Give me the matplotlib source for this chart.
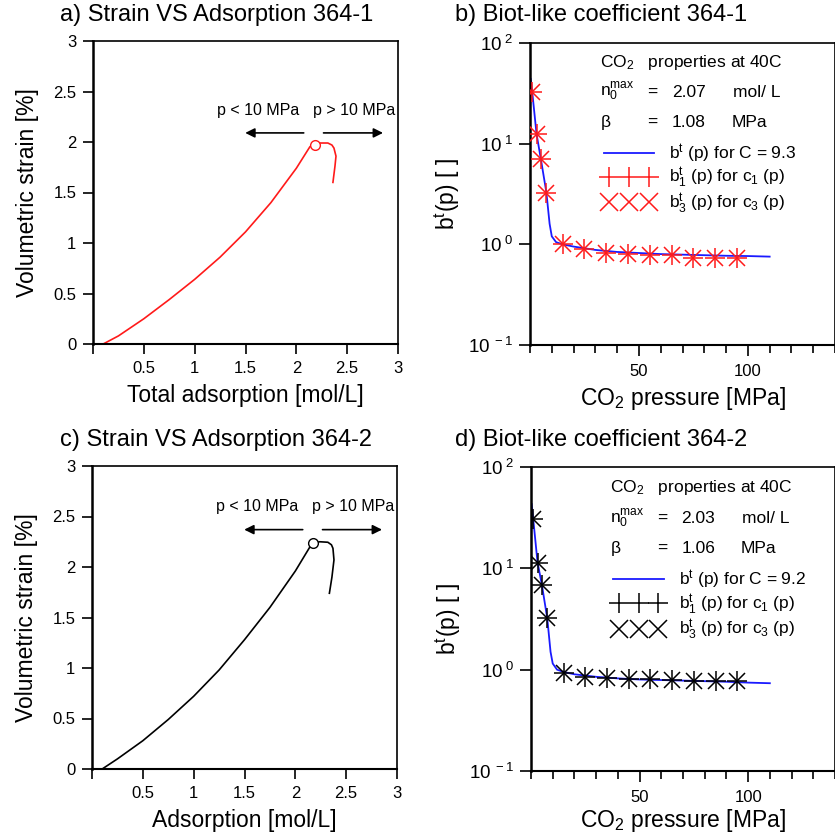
import numpy as np
import matplotlib.pyplot as plt
from matplotlib.ticker import FixedLocator, MultipleLocator, NullLocator, FuncFormatter
from matplotlib.lines import Line2D
from matplotlib.legend_handler import HandlerLine2D

plt.rcParams['font.family'] = ['Liberation Sans', 'DejaVu Sans']
plt.rcParams['mathtext.fontset'] = 'custom'
plt.rcParams['mathtext.rm'] = 'Liberation Sans'
plt.rcParams['mathtext.it'] = 'Liberation Sans:italic'

# strain vs adsorption, sample 364-1 (red) and 364-2 (black)
ads_1 = [0.10, 0.25, 0.50, 0.75, 1.00, 1.25, 1.50, 1.75, 2.00, 2.134, 2.18,
         2.23, 2.31, 2.35, 2.37, 2.39, 2.38, 2.36]
strain_1 = [0.00, 0.08, 0.25, 0.44, 0.64, 0.86, 1.11, 1.40, 1.74, 1.954, 1.97,
            1.99, 1.99, 1.97, 1.94, 1.86, 1.76, 1.60]
peak_1 = (2.18, 1.97)

ads_2 = [0.10, 0.25, 0.50, 0.75, 1.00, 1.25, 1.50, 1.75, 2.00, 2.144, 2.177,
         2.24, 2.32, 2.355, 2.37, 2.38, 2.36, 2.335]
strain_2 = [0.00, 0.10, 0.28, 0.49, 0.72, 0.98, 1.28, 1.60, 1.96, 2.20, 2.235,
            2.25, 2.245, 2.22, 2.185, 2.07, 1.90, 1.74]
peak_2 = (2.177, 2.235)

# Biot-like coefficient vs CO2 pressure
p_pts = [1, 3, 5, 7.5, 15, 25, 35, 45, 55, 65, 75, 85, 95]
bt_pts_1 = [32.5, 12.4, 7.0, 3.2, 1.0, 0.90, 0.82, 0.80, 0.79, 0.78, 0.73, 0.73, 0.73]
bt_pts_2 = [31.0, 11.4, 6.9, 3.2, 0.93, 0.85, 0.83, 0.80, 0.80, 0.79, 0.77, 0.78, 0.77]

p_line = [0.3, 1, 3, 5, 7.5, 9, 10, 12, 15, 20, 30, 40, 50, 60, 70, 80, 90, 100, 110]
bt_line_1 = [44, 33, 12.5, 7.0, 3.3, 1.6, 1.2, 1.05, 1.0, 0.95, 0.88, 0.84, 0.82,
             0.80, 0.79, 0.78, 0.77, 0.765, 0.755]
bt_line_2 = [43, 31, 11.5, 6.9, 3.2, 1.5, 1.15, 1.0, 0.95, 0.90, 0.85, 0.82, 0.80,
             0.79, 0.78, 0.77, 0.76, 0.745, 0.735]

titles = ['a) Strain VS Adsorption 364-1', 'b) Biot-like coefficient 364-1',
          'c) Strain VS Adsorption 364-2', 'd) Biot-like coefficient 364-2']

W = 835.0
fig = plt.figure(figsize=(8.35, 8.35), dpi=100)


def px_axes(l, t, r, b):
    return fig.add_axes([l / W, 1 - b / W, (r - l) / W, (b - t) / W])


def strain_panel(ax, x, y, peak, color, xlabel, y_arr, y_txt):
    ax.plot(x, y, color=color, lw=1.2)
    ax.plot([peak[0]], [peak[1]], 'o', ms=7, mfc='white', mec=color, mew=1.0)
    ax.set_xlim(0, 3)
    ax.set_ylim(0, 3)
    ax.xaxis.set_major_locator(FixedLocator([0, 0.5, 1, 1.5, 2, 2.5, 3]))
    ax.yaxis.set_major_locator(MultipleLocator(0.5))
    ax.xaxis.set_major_formatter(FuncFormatter(lambda v, _: '' if v == 0 else '%g' % v))
    ax.yaxis.set_major_formatter(FuncFormatter(lambda v, _: '%g' % v))
    ax.tick_params(direction='out', length=7, width=1.2, labelsize=12, pad=5)
    for s in ax.spines.values():
        s.set_linewidth(1.2)
    ax.spines['left'].set_linewidth(1.8)
    ax.spines['bottom'].set_linewidth(1.5)
    ax.set_xlabel(xlabel, fontsize=16.5, labelpad=6)
    ax.set_ylabel('Volumetric strain [%]', fontsize=16.5, labelpad=10)
    ax.annotate('', xy=(1.47, y_arr), xytext=(2.1, y_arr),
                arrowprops=dict(arrowstyle='-|>', color='black', lw=1.2, mutation_scale=14))
    ax.annotate('', xy=(2.88, y_arr), xytext=(2.24, y_arr),
                arrowprops=dict(arrowstyle='-|>', color='black', lw=1.2, mutation_scale=14))
    ax.text(1.62, y_txt, 'p < 10 MPa', fontsize=11.5, ha='center', va='center')
    ax.text(2.57, y_txt, 'p > 10 MPa', fontsize=11.5, ha='center', va='center')


def log_fmt(v, _):
    e = int(round(np.log10(v)))
    return r'$\mathregular{10^{\ %d}}$' % e


def biot_panel(ax, pl, bl, pp, bp, mcol, n0, beta, cval, info_x, info_y, xpad):
    ax.plot(pl, bl, color='#1a1aff', lw=1.3, zorder=2)
    ax.plot(pp, bp, '+', color=mcol, ms=14, mew=1.1, zorder=3)
    ax.plot(pp, bp, 'x', color=mcol, ms=12, mew=1.1, zorder=3)
    ax.set_yscale('log')
    ax.set_ylim(0.1, 100)
    ax.set_xlim(0, 140)
    ax.yaxis.set_minor_locator(NullLocator())
    ax.yaxis.set_major_formatter(FuncFormatter(log_fmt))
    ax.xaxis.set_major_locator(FixedLocator([50, 100]))
    ax.xaxis.set_minor_locator(MultipleLocator(10))
    ax.tick_params(which='major', direction='out', length=8, width=1.2, labelsize=12, pad=6)
    ax.tick_params(axis='y', labelsize=13.5, pad=4)
    ax.tick_params(which='minor', direction='out', length=6, width=1.2)
    for s in ax.spines.values():
        s.set_linewidth(1.2)
    ax.spines['left'].set_linewidth(1.8)
    ax.spines['bottom'].set_linewidth(1.5)
    ax.set_xlabel(r'CO$_2$ pressure [MPa]', fontsize=16.5, labelpad=xpad)
    ax.set_ylabel(r'$\mathregular{b^t(p)}$ [ ]', fontsize=16.5, labelpad=4)

    fs = 12.5
    tr = ax.transAxes
    ax.text(info_x, info_y, r'CO$_2$   properties at 40C', transform=tr, fontsize=fs, va='center')
    ax.text(info_x, info_y - 0.1, r'$\mathregular{n_0^{max}}$', transform=tr, fontsize=fs, va='center')
    ax.text(info_x + 0.155, info_y - 0.1, '=', transform=tr, fontsize=fs, va='center')
    ax.text(info_x + 0.235, info_y - 0.1, n0, transform=tr, fontsize=fs, va='center')
    ax.text(info_x + 0.435, info_y - 0.1, 'mol/ L', transform=tr, fontsize=fs, va='center')
    ax.text(info_x, info_y - 0.2, r'$\mathregular{\beta}$', transform=tr, fontsize=fs, va='center')
    ax.text(info_x + 0.155, info_y - 0.2, '=', transform=tr, fontsize=fs, va='center')
    ax.text(info_x + 0.235, info_y - 0.2, beta, transform=tr, fontsize=fs, va='center')
    ax.text(info_x + 0.43, info_y - 0.2, 'MPa', transform=tr, fontsize=fs, va='center')

    handles = [Line2D([], [], color='#1a1aff', lw=1.3),
               Line2D([], [], ls='none', marker='+', color=mcol, ms=15, mew=1.1),
               Line2D([], [], ls='none', marker='x', color=mcol, ms=12.5, mew=1.1)]
    labels = [r'$\mathregular{b^t}$ (p) for C = ' + cval,
              r'$\mathregular{b^t_1}$ (p) for c$_1$ (p)',
              r'$\mathregular{b^t_3}$ (p) for c$_3$ (p)']
    hm = {handles[1]: HandlerLine2D(marker_pad=0.62), handles[2]: HandlerLine2D(marker_pad=0.62)}
    ax.legend(handles, labels, handler_map=hm, loc='upper left',
              bbox_to_anchor=(info_x - 0.005, info_y - 0.265),
              frameon=False, fontsize=fs, numpoints=3, handlelength=3.5, handletextpad=0.55,
              labelspacing=0.08, borderpad=0, borderaxespad=0)


ax_a = px_axes(93, 41, 398, 344)
strain_panel(ax_a, ads_1, strain_1, peak_1, '#ff1a1a', 'Total adsorption [mol/L]', 2.09, 2.31)

ax_b = px_axes(530, 43, 835, 345)
biot_panel(ax_b, p_line, bt_line_1, p_pts, bt_pts_1, '#ff1a1a', '2.07', '1.08', '9.3', 0.23, 0.937, 4)

ax_c = px_axes(92, 466, 397, 769)
strain_panel(ax_c, ads_2, strain_2, peak_2, 'black', 'Adsorption [mol/L]', 2.37, 2.6)

ax_d = px_axes(531, 467, 835, 771)
biot_panel(ax_d, p_line, bt_line_2, p_pts, bt_pts_2, 'black', '2.03', '1.06', '9.2', 0.259, 0.931, 1)

for t, (xp, yp) in zip(titles, [(60, 15), (455, 15), (60, 440), (455, 440)]):
    fig.text(xp / W, 1 - yp / W, t, fontsize=17, va='center', ha='left')

fig.savefig('out.png', dpi=100)
